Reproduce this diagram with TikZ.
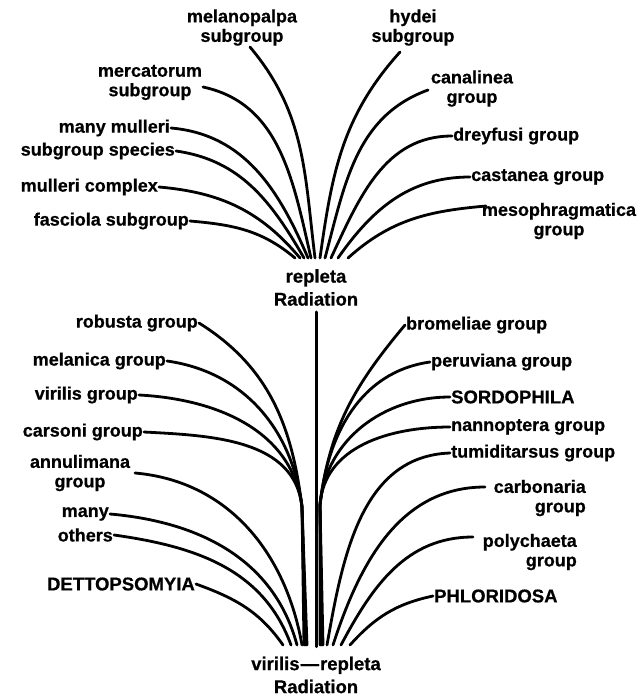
\documentclass[tikz,border=0pt]{standalone}
\usepackage{fontspec}
\setmainfont{Liberation Sans}[BoldFeatures={FakeBold=0.6}]
\begin{document}
\begin{tikzpicture}[x=1pt,y=-1pt,
  lbl/.style={font=\bfseries\fontsize{18}{19.5}\selectfont, inner sep=1pt},
  capslbl/.style={font=\bfseries\fontsize{18.5}{21}\selectfont, inner sep=1pt},
  ctr/.style={font=\bfseries\fontsize{18.5}{23}\selectfont, inner sep=1pt, align=center},
  br/.style={line width=2.8pt, line cap=round}]
\useasboundingbox (0,0) rectangle (638,697);

% ---------- centre nodes ----------
\node[ctr] (rep) at (316,287.5) {repleta\\Radiation};
\node[ctr] (vr) at (316,675) {virilis\kern1pt—\kern1pt repleta\\Radiation};

% ---------- top fan end points ----------
\coordinate (t1) at (295,258);
\coordinate (t2) at (300,258);
\coordinate (t3) at (304,258);
\coordinate (t4) at (308,258);
\coordinate (t5) at (311,258);
\coordinate (t6) at (315,258);
\coordinate (t7) at (320,258);
\coordinate (t8) at (325,258);
\coordinate (t9) at (331,258);
\coordinate (t10) at (338,258);
\coordinate (t11) at (348,258);

% ---------- top left labels ----------
\node[lbl,anchor=east] (fas) at (190,221) {fasciola subgroup};
\node[lbl,anchor=east] (mcx) at (159,187) {mulleri complex};
\node[lbl,anchor=east] (msp) at (176,151) {subgroup species};
\node[lbl,anchor=east] (mmu) at (171,128) {many mulleri};
\node[lbl,align=center] (mer) at (150,82.5) {mercatorum\\subgroup};
\coordinate (merS) at (203,87);
\node[lbl,align=center] (mel) at (242,27.5) {melanopalpa\\subgroup};
\coordinate (melS) at (250,47);

% ---------- top right labels ----------
\node[lbl,align=center] (hyd) at (413,27.5) {hydei\\subgroup};
\coordinate (hydS) at (400,52);
\node[lbl,align=center] (can) at (472,88.5) {canalinea\\group};
\coordinate (canS) at (428,90);
\node[lbl,anchor=west] (dre) at (452,136) {dreyfusi group};
\node[lbl,anchor=west] (cas) at (470,177) {castanea group};
\node[lbl,align=center] (mes) at (559,221) {mesophragmatica\\group};
\coordinate (mesS) at (486,206);

% ---------- top connectors ----------
\draw[br] (fas.east) to[out=-5,in=140] (t1);
\draw[br] (mcx.east) to[out=-5,in=130] (t2);
\draw[br] (msp.east) to[out=-8,in=120] (t3);
\draw[br] (mmu.east) to[out=-5,in=113] (t4);
\draw[br] (merS) to[out=-12,in=103] (t5);
\draw[br] (melS) to[out=-50,in=97] (t6);
\draw[br] (hydS) to[out=228,in=82] (t7);
\draw[br] (canS) to[out=200,in=75] (t8);
\draw[br] (dre.west) to[out=180,in=65] (t9);
\draw[br] (cas.west) to[out=180,in=55] (t10);
\draw[br] (mesS) to[out=185,in=42] (t11);

% ---------- vertical stem ----------
\draw[br, line width=3pt, shorten <=5pt, shorten >=9pt] (rep.south) -- (vr.north);

% ---------- bottom end points ----------
\coordinate (mL) at (302,507);
\coordinate (mR) at (320,505);
\coordinate (bL1) at (304,645);
\coordinate (bL2) at (305,645);
\coordinate (bL3) at (306,645);
\coordinate (bL4) at (307,645);
\coordinate (bA) at (302,645);
\coordinate (bM) at (297,645);
\coordinate (bO) at (291,645);
\coordinate (bD) at (283,645);
\coordinate (bR1) at (320,645);
\coordinate (bR2) at (321,645);
\coordinate (bR3) at (322,645);
\coordinate (bR4) at (323,645);
\coordinate (bT) at (327,645);
\coordinate (bC) at (333,645);
\coordinate (bP) at (341,645);
\coordinate (bF) at (350,645);

% ---------- lower left labels ----------
\node[lbl,anchor=east] (rob) at (199,323) {robusta group};
\node[lbl,anchor=east] (mla) at (167,361) {melanica group};
\node[lbl,anchor=east] (vir) at (139,395) {virilis group};
\node[lbl,anchor=east] (car) at (144,432) {carsoni group};
\node[lbl,align=center] (ann) at (80,473) {annulimana\\group};
\coordinate (annS) at (135,473);
\node[lbl,anchor=east] (many) at (110,514) {many};
\node[lbl,anchor=east] (oth) at (114,535) {others};
\node[capslbl,anchor=east] (det) at (196,584) {DETTOPSOMYIA};

% ---------- lower right labels ----------
\node[lbl,anchor=west] (bro) at (405,325) {bromeliae group};
\node[lbl,anchor=west] (per) at (430,362) {peruviana group};
\node[capslbl,anchor=west] (sor) at (450,397) {SORDOPHILA};
\node[lbl,anchor=west] (nan) at (450,427) {nannoptera group};
\node[lbl,anchor=west] (tum) at (450,453) {tumiditarsus group};
\node[lbl,align=right,anchor=east] (cab) at (587,498) {carbonaria\\group};
\coordinate (cabS) at (485,487);
\node[lbl,align=right,anchor=east] (pol) at (578,552) {polychaeta\\group};
\coordinate (polS) at (473,537);
\node[capslbl,anchor=west] (phl) at (433,596) {PHLORIDOSA};

% ---------- lower left connectors ----------
\draw[br] (rob.east) to[out=-32,in=97] (mL) -- (bL1);
\draw[br] (mla.east) to[out=-8,in=97] (mL) -- (bL2);
\draw[br] (vir.east) to[out=-3,in=97] (mL) -- (bL3);
\draw[br] (car.east) to[out=-3,in=96] (mL) -- (bL4);
\draw[br] (annS) to[out=-5,in=100] (bA);
\draw[br] (many.east) to[out=-5,in=105] (bM);
\draw[br] (oth.east) to[out=-8,in=110] (bO);
\draw[br] (det.east) to[out=-20,in=125] (bD);

% ---------- lower right connectors ----------
\draw[br] (bro.west) to[out=230,in=83] (mR) -- (bR1);
\draw[br] (per.west) to[out=188,in=84] (mR) -- (bR2);
\draw[br] (sor.west) to[out=180,in=85] (mR) -- (bR3);
\draw[br] (nan.west) to[out=180,in=86] (mR) -- (bR4);
\draw[br] (tum.west) to[out=182,in=80] (bT);
\draw[br] (cabS) to[out=180,in=72] (bC);
\draw[br] (polS) to[out=180,in=62] (bP);
\draw[br] (phl.west) to[out=192,in=48] (bF);
\end{tikzpicture}
\end{document}
